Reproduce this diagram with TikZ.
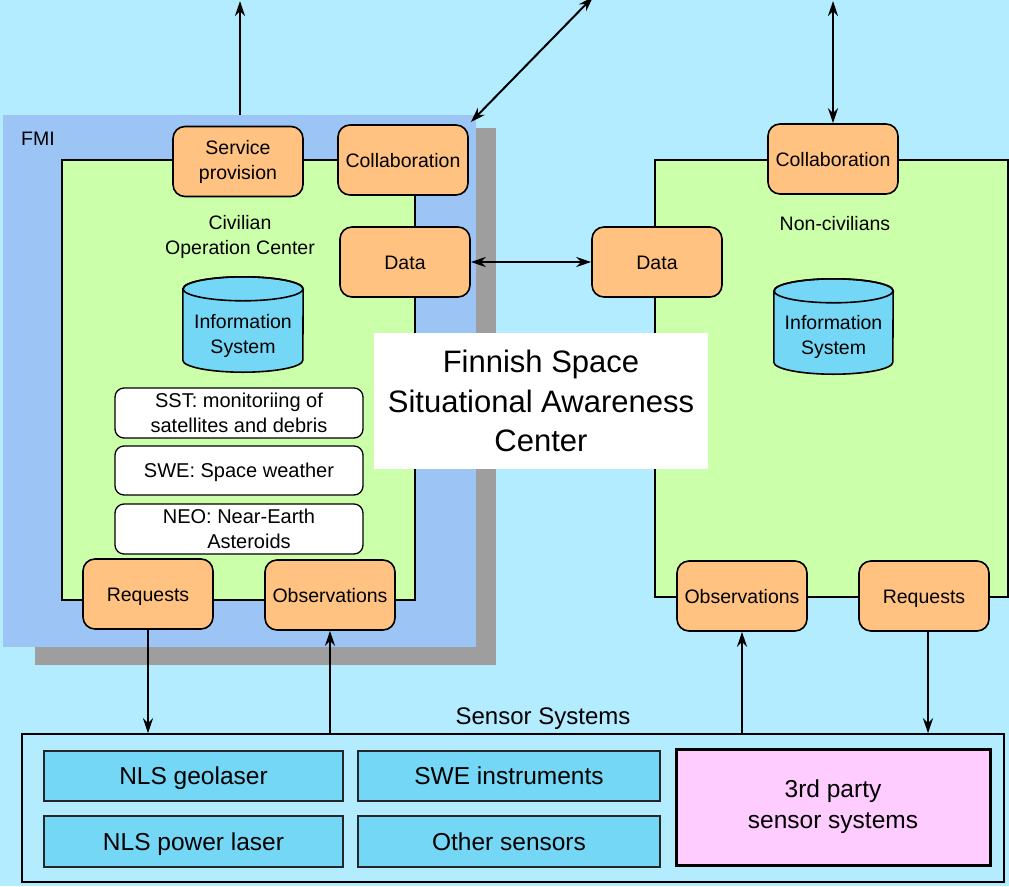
\documentclass[tikz,border=0pt]{standalone}
\usepackage{fontspec}
\setmainfont{Liberation Sans}
\usetikzlibrary{arrows.meta,calc}

\definecolor{skyfill}{HTML}{B3ECFF}
\definecolor{fmifill}{HTML}{9CC4F5}
\definecolor{shadowfill}{HTML}{9E9E9E}
\definecolor{greenfill}{HTML}{CCFFAA}
\definecolor{orangefill}{HTML}{FFC280}
\definecolor{cylfill}{HTML}{73D7F5}
\definecolor{sensorfill}{HTML}{73D7F5}
\definecolor{pinkfill}{HTML}{FFCCFF}

\newcommand{\fsz}[2]{\fontsize{#1}{#2}\selectfont}

\pgfdeclarelayer{skylayer}
\pgfdeclarelayer{underlayer}
\pgfsetlayers{skylayer,underlayer,main}

\tikzset{
  port/.style={draw, line width=1.6pt, fill=orangefill, rounded corners=12pt,
    minimum width=130pt, minimum height=70pt, inner sep=0pt, align=center,
    font=\fsz{19.5}{25}},
  oneline/.style={text height=14pt, text depth=0pt},
  note/.style={draw, line width=1.3pt, fill=white, rounded corners=9pt,
    minimum width=248pt, minimum height=50pt, inner sep=0pt, align=center,
    font=\fsz{20}{25}},
  sensorbox/.style={draw=black!85, line width=1.3pt, fill=sensorfill,
    minimum width=300pt, minimum height=50pt, inner sep=0pt, font=\fsz{24.5}{30},
    text height=17.5pt, text depth=0pt},
  container/.style={draw, line width=1.6pt, fill=greenfill, inner sep=0pt},
  plain/.style={inner sep=0pt, align=center, font=\fsz{19.5}{25}},
  cylbody/.style={draw, line width=1.6pt, fill=cylfill},
  arr/.style={line width=2pt, -{Stealth[length=15pt,width=10pt,inset=5pt]}},
  darr/.style={line width=2pt, {Stealth[length=15pt,width=10pt,inset=5pt]}-{Stealth[length=15pt,width=10pt,inset=5pt]}},
}

\begin{document}
\begin{tikzpicture}[x=1pt,y=-1pt]
\useasboundingbox (0,0) rectangle (1009,886);
\begin{pgfonlayer}{skylayer}
  \fill[skyfill] (0,0) rectangle (1009,886);
\end{pgfonlayer}

% FMI block with its shadow
\node[fill=shadowfill, minimum width=461pt, minimum height=537pt, inner sep=0pt] (shadow) at (265.5,396.5) {};
\node[fill=fmifill, minimum width=473pt, minimum height=532pt, inner sep=0pt] (fmi) at (239.5,381) {};
\node[plain, anchor=west] (fmilabel) at (21,139) {FMI};

% operation centers
\node[container, minimum width=353pt, minimum height=440pt] (civ) at (238.5,380) {};
\node[container, minimum width=353pt, minimum height=437pt] (noncivbox) at (831.5,378.5) {};

% title
\node[fill=white, minimum width=334pt, minimum height=136pt, inner sep=0pt,
      align=center, font=\fsz{31}{39.5}] (title) at (541,401)
  {Finnish Space\\Situational Awareness\\Center};

\node[plain] (civlabel) at (240,236.5) {Civilian\\Operation Center};
\node[plain, oneline] (noncivlabel) at (835,223) {Non-civilians};

% interface boxes
\node[port] (svc) at (238,161.5) {Service\\provision};
\node[port, oneline] (collabL) at (403,160) {Collaboration};
\node[port, oneline] (dataL) at (405,262) {Data};
\node[port, oneline] (reqL) at (148,594) {Requests};
\node[port, oneline] (obsL) at (330,595) {Observations};
\node[port, oneline] (collabR) at (833,159) {Collaboration};
\node[port, oneline] (dataR) at (657,262) {Data};
\node[port, oneline] (obsR) at (742,596) {Observations};
\node[port, oneline] (reqR) at (924,596) {Requests};

% information systems (cylinders)
\node[minimum width=120pt, minimum height=95pt, inner sep=0pt] (cylL) at (243,324.5) {};
\filldraw[cylbody] ($(cylL.north west)+(0,12)$) -- ($(cylL.south west)+(0,-12)$)
  arc[start angle=180, end angle=360, x radius=60pt, y radius=12pt]
  -- ($(cylL.north east)+(0,12)$)
  arc[start angle=0, end angle=180, x radius=60pt, y radius=12pt] -- cycle;
\draw[line width=1.6pt] ($(cylL.north)+(0,12)$) ellipse[x radius=60pt, y radius=12pt];
\node[plain] (cylLtext) at ($(cylL.center)+(0,11)$) {Information\\System};

\node[minimum width=119pt, minimum height=95pt, inner sep=0pt] (cylR) at (833.5,326.5) {};
\filldraw[cylbody] ($(cylR.north west)+(0,12)$) -- ($(cylR.south west)+(0,-12)$)
  arc[start angle=180, end angle=360, x radius=59.5pt, y radius=12pt]
  -- ($(cylR.north east)+(0,12)$)
  arc[start angle=0, end angle=180, x radius=59.5pt, y radius=12pt] -- cycle;
\draw[line width=1.6pt] ($(cylR.north)+(0,12)$) ellipse[x radius=59.5pt, y radius=12pt];
\node[plain] (cylRtext) at ($(cylR.center)+(0,10)$) {Information\\System};

% activities
\node[note] (sst) at (239,413) {SST: monitoriing of\\satellites and debris};
\node[note, minimum height=49pt, text height=14.4pt, text depth=0pt] (swe) at (239,470.5) {SWE: Space weather};
\node[note] (neo) at (239,529) {NEO: Near-Earth\\\hspace*{20pt}Asteroids};

% sensor systems
\node[font=\fsz{24}{30}, inner sep=0pt, text height=17.2pt, text depth=0pt] (sensorlabel) at (543,716) {Sensor Systems};
\node[draw, line width=1.5pt, minimum width=982pt, minimum height=148pt, inner sep=0pt] (sensors) at (513,808) {};
\node[sensorbox, minimum width=299pt] (geo) at (193.5,776) {NLS geolaser};
\node[sensorbox, minimum width=299pt, minimum height=51pt] (power) at (193.5,841.5) {NLS power laser};
\node[sensorbox, minimum width=302pt] (sweinst) at (509,776) {SWE instruments};
\node[sensorbox, minimum width=302pt, minimum height=51pt] (other) at (509,841.5) {Other sensors};
\node[draw, line width=3pt, fill=pinkfill, minimum width=314pt, minimum height=116pt,
      inner sep=0pt, align=center, font=\fsz{24.5}{31}] (third) at (833,807) {3rd party\\sensor systems};

% connectors
\coordinate (svcout) at (240,1);
\coordinate (collabout) at (593,-3);
\coordinate (collabRout) at (833,1);
\begin{pgfonlayer}{underlayer}
  \draw[arr] ([xshift=2pt]svc.north) -- (svcout);
\end{pgfonlayer}
\draw[darr, shorten <=3pt] (collabL.north east) -- (collabout);
\draw[darr] (collabR.north) -- (collabRout);
\draw[darr] (dataL.east) -- (dataR.west);
\draw[arr] (reqL.south) -- (reqL.south |- sensors.north);
\draw[arr] (obsL.south |- sensors.north) -- (obsL.south);
\draw[arr] (obsR.south |- sensors.north) -- (obsR.south);
\draw[arr] ([xshift=4pt]reqR.south) -- ([xshift=4pt]reqR.south |- sensors.north);
\end{tikzpicture}
\end{document}
